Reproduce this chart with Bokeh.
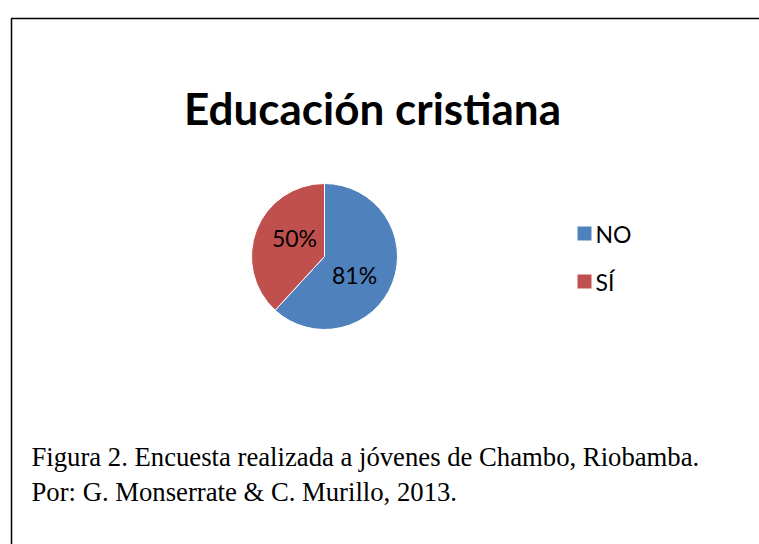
import numpy as np
from bokeh.plotting import figure
from bokeh.models import Range1d
from bokeh.core.properties import value
from bokeh.embed import file_html
from bokeh.resources import INLINE

# ---- data ----
categories = ["NO", "SÍ"]
values = [81, 50]
labels = ["81%", "50%"]
colors = ["#4F81BD", "#C0504D"]
title_text = "Educación cristiana"
caption_lines = ["Figura 2. Encuesta realizada a jóvenes de Chambo, Riobamba.",
                 "Por: G. Monserrate & C. Murillo, 2013."]

W, H = 759, 544
p = figure(width=W, height=H, output_backend="svg", toolbar_location=None,
           x_range=Range1d(0, W), y_range=Range1d(0, H), min_border=0)
p.axis.visible = False
p.grid.visible = False
p.outline_line_color = None
p.background_fill_color = "white"
p.border_fill_color = "white"

# frame
p.line([11, 11, 900], [-100, 526, 526], line_color="black", line_width=1.5)

# title
p.text(x=[372], y=[437], text=[title_text], text_font=value("Lato"),
       text_font_style="bold", text_font_size="44px", text_align="center",
       text_baseline="middle", text_color="black")

# pie
cx, cy, r = 324, 288, 73
vals = np.array(values, dtype=float)
frac = vals / vals.sum()
ang = 2 * np.pi * frac
starts = np.pi / 2 - np.concatenate([[0], np.cumsum(ang)[:-1]])
ends = starts - ang
p.wedge(x=[cx] * len(vals), y=[cy] * len(vals), radius=r,
        start_angle=list(ends), end_angle=list(starts),
        fill_color=colors, line_color="white", line_width=1)

mids = (starts + ends) / 2 - 0.17
lx = cx + 0.48 * r * np.cos(mids)
ly = cy + 0.48 * r * np.sin(mids)
p.text(x=list(lx), y=list(ly), text=labels, text_font=value("Lato"),
       text_font_size="23px", text_align="center", text_baseline="middle",
       text_color="black")

# legend
leg_x = 584
leg_y = [311, 263]
p.rect(x=[leg_x] * 2, y=leg_y, width=14, height=14, fill_color=colors,
       line_color=None)
p.text(x=[leg_x + 11] * 2, y=leg_y, text=categories, text_font=value("Lato"),
       text_font_size="23px", text_align="left", text_baseline="middle",
       text_color="black")

# caption
p.text(x=[31, 31], y=[88, 53], text=caption_lines,
       text_font=value("Liberation Serif"), text_font_size="26.7px",
       text_align="left", text_baseline="alphabetic", text_color="black")

open("out.html", "w").write(file_html(p, INLINE))
